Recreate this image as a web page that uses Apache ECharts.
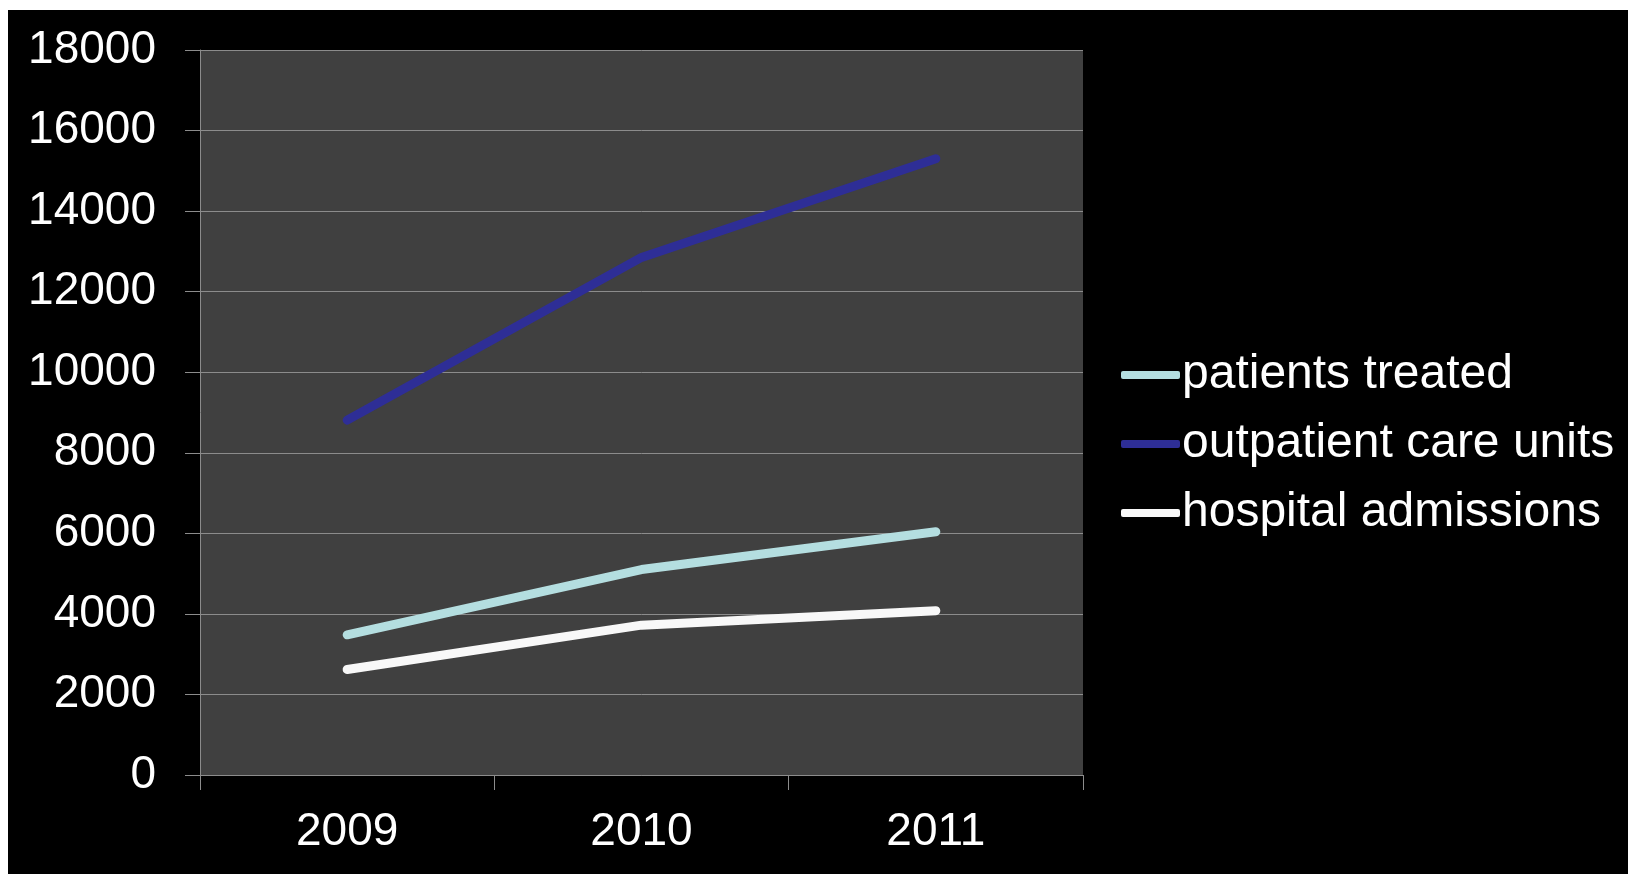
<!DOCTYPE html>
<html>
<head>
<meta charset="utf-8">
<script src="https://cdn.jsdelivr.net/npm/echarts@6/dist/echarts.min.js"></script>
<style>
  html, body { margin: 0; padding: 0; background: #fff; }
  #chart { width: 1628px; height: 874px; }
</style>
</head>
<body>
<div id="chart"></div>
<script>
// 数据
const years = ['2009', '2010', '2011']
const patientsTreated = [3480, 5100, 6040]
const outpatientUnits = [8810, 12850, 15300]
const hospitalAdmissions = [2620, 3720, 4080]
const yTicks = [0, 2000, 4000, 6000, 8000, 10000, 12000, 14000, 16000, 18000]

const font = '"Liberation Sans", Arial, sans-serif'
const gridColor = '#8c8c8c'

const myChart = echarts.init(document.getElementById('chart'))
const option = {
  backgroundColor: '#000',
  animation: false,
  // slide margin (white strip top / left)
  graphic: [
    { type: 'rect', left: 0, top: 0, shape: { width: 1628, height: 10 }, style: { fill: '#fff' } },
    { type: 'rect', left: 0, top: 0, shape: { width: 8, height: 874 }, style: { fill: '#fff' } }
  ],
  grid: {
    left: 200,
    top: 50,
    right: 545,
    bottom: 99,
    show: true,
    backgroundColor: '#404040',
    borderWidth: 0
  },
  legend: {
    orient: 'vertical',
    left: 1116,
    top: 346,
    icon: 'roundRect',
    itemWidth: 59,
    itemHeight: 8,
    itemGap: 21,
    textStyle: {
      color: '#fff',
      fontSize: 48,
      fontFamily: font,
      padding: [0, 0, 0, -3]
    },
    data: ['patients treated', 'outpatient care units', 'hospital admissions']
  },
  xAxis: {
    type: 'category',
    data: years,
    boundaryGap: true,
    axisLine: { lineStyle: { color: gridColor, width: 1 } },
    axisTick: { show: true, length: 15, lineStyle: { color: gridColor } },
    axisLabel: {
      color: '#fff',
      fontSize: 46,
      fontFamily: font,
      margin: 34
    },
    splitLine: { show: false }
  },
  yAxis: {
    type: 'value',
    min: yTicks[0],
    max: yTicks[yTicks.length - 1],
    interval: 2000,
    axisLine: { show: true, lineStyle: { color: gridColor, width: 1 } },
    axisTick: { show: true, length: 15, lineStyle: { color: gridColor } },
    axisLabel: {
      color: '#fff',
      fontSize: 46,
      fontFamily: font,
      margin: 44,
      formatter: (v) => String(v)
    },
    splitLine: { lineStyle: { color: gridColor, width: 1 } }
  },
  series: [
    {
      name: 'patients treated',
      type: 'line',
      data: patientsTreated,
      symbol: 'none',
      lineStyle: { width: 9, color: '#b4dee0', cap: 'round', join: 'round' },
      itemStyle: { color: '#b4dee0' }
    },
    {
      name: 'outpatient care units',
      type: 'line',
      data: outpatientUnits,
      symbol: 'none',
      lineStyle: { width: 9, color: '#2e2e96', cap: 'round', join: 'round' },
      itemStyle: { color: '#2e2e96' }
    },
    {
      name: 'hospital admissions',
      type: 'line',
      data: hospitalAdmissions,
      symbol: 'none',
      lineStyle: { width: 9, color: '#f8f8f8', cap: 'round', join: 'round' },
      itemStyle: { color: '#f8f8f8' }
    }
  ]
}
myChart.setOption(option)
</script>
</body>
</html>
